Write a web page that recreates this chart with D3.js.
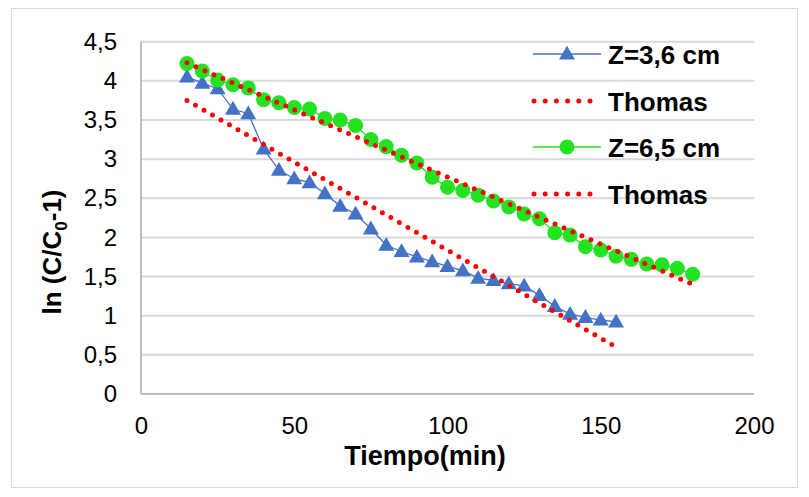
<!DOCTYPE html>
<html>
<head>
<meta charset="utf-8">
<script src="https://cdn.jsdelivr.net/npm/d3@7"></script>
<style>
  html, body { margin: 0; padding: 0; background: #fff; }
  svg text { font-family: "Liberation Sans", Arial, sans-serif; fill: #000; }
</style>
</head>
<body>
<svg id="chart" width="809" height="497"></svg>
<script>
// Time points (min) for each column height
const timeZ36 = [15,20,25,30,35,40,45,50,55,60,65,70,75,80,85,90,95,100,105,110,115,120,125,130,135,140,145,150,155];
const lnZ36   = [4.05,3.97,3.90,3.64,3.58,3.13,2.86,2.75,2.70,2.56,2.40,2.30,2.11,1.90,1.82,1.75,1.69,1.63,1.575,1.48,1.45,1.41,1.38,1.26,1.12,1.02,0.98,0.945,0.92];

const timeZ65 = [15,20,25,30,35,40,45,50,55,60,65,70,75,80,85,90,95,100,105,110,115,120,125,130,135,140,145,150,155,160,165,170,175,180];
const lnZ65   = [4.22,4.125,4.01,3.95,3.91,3.76,3.72,3.66,3.64,3.52,3.50,3.43,3.25,3.16,3.05,2.95,2.77,2.64,2.60,2.54,2.465,2.39,2.30,2.24,2.06,2.03,1.88,1.84,1.76,1.72,1.66,1.65,1.605,1.53];

// Thomas model lines (straight lines, start and end values)
const thomasZ36 = [[15, 3.75], [155, 0.60]];
const thomasZ65 = [[15, 4.23], [180, 1.40]];

const xTicks = [0, 50, 100, 150, 200];
const yTicks = [0, 0.5, 1, 1.5, 2, 2.5, 3, 3.5, 4, 4.5];
const fmtComma = d => String(d).replace(".", ",");

const legendLabels = ["Z=3,6 cm", "Thomas", "Z=6,5 cm", "Thomas"];

const BLUE = "#4472c4", GREEN = "#22e222", RED = "#ff0000", GRID = "#d9d9d9";

const svg = d3.select("#chart");

// outer chart frame
svg.append("rect")
  .attr("x", 11.5).attr("y", 8.5).attr("width", 786).attr("height", 479)
  .attr("fill", "none").attr("stroke", GRID).attr("stroke-width", 1);

const x = d3.scaleLinear().domain([0, 200]).range([141, 754]);
const y = d3.scaleLinear().domain([0, 4.5]).range([394, 41.7]);

// horizontal gridlines
svg.append("g")
  .selectAll("line")
  .data(yTicks.filter(d => d > 0))
  .join("line")
  .attr("x1", x(0)).attr("x2", x(200))
  .attr("y1", d => y(d)).attr("y2", d => y(d))
  .attr("stroke", GRID).attr("stroke-width", 2);

// axes lines
svg.append("line").attr("x1", x(0)).attr("x2", x(0)).attr("y1", y(4.5)).attr("y2", y(0))
  .attr("stroke", "#bfbfbf").attr("stroke-width", 2);
svg.append("line").attr("x1", x(0)).attr("x2", x(200)).attr("y1", y(0)).attr("y2", y(0))
  .attr("stroke", "#bfbfbf").attr("stroke-width", 2);

// y tick labels
const yAxis = d3.axisLeft(y).tickValues(yTicks).tickFormat(fmtComma).tickSize(0).tickPadding(24);
const gy = svg.append("g").attr("transform", `translate(${x(0)},0)`).call(yAxis);
gy.select(".domain").remove();
gy.selectAll("text").attr("font-size", 24).attr("font-family", "Liberation Sans, Arial, sans-serif");

// x tick labels
const xAxis = d3.axisBottom(x).tickValues(xTicks).tickFormat(fmtComma).tickSize(0).tickPadding(23);
const gx = svg.append("g").attr("transform", `translate(0,${y(0)})`).call(xAxis);
gx.select(".domain").remove();
gx.selectAll("text").attr("font-size", 24).attr("font-family", "Liberation Sans, Arial, sans-serif");

// axis titles
svg.append("text")
  .attr("x", 425).attr("y", 465)
  .attr("text-anchor", "middle")
  .attr("font-size", 27).attr("font-weight", "bold")
  .text("Tiempo(min)");

const yt = svg.append("text")
  .attr("transform", "translate(61,252) rotate(-90)")
  .attr("text-anchor", "middle")
  .attr("font-size", 26).attr("font-weight", "bold");
yt.append("tspan").text("ln (C/C");
yt.append("tspan").attr("font-size", 17).attr("dy", 6).text("0");
yt.append("tspan").attr("dy", -6).text("-1)");

const line = d3.line().x(d => x(d[0])).y(d => y(d[1]));
const triangle = d3.symbol().type(d3.symbolTriangle).size(110);

// series Z=3,6 cm
const s36 = timeZ36.map((t, i) => [t, lnZ36[i]]);
svg.append("path").datum(s36).attr("d", line)
  .attr("fill", "none").attr("stroke", BLUE).attr("stroke-width", 1.3);
svg.append("g").selectAll("path").data(s36).join("path")
  .attr("d", triangle)
  .attr("transform", d => `translate(${x(d[0])},${y(d[1]) + 1})`)
  .attr("fill", BLUE);

// Thomas fit for Z=3,6 cm
svg.append("path").datum(thomasZ36).attr("d", line)
  .attr("fill", "none").attr("stroke", RED).attr("stroke-width", 5)
  .attr("stroke-linecap", "round").attr("stroke-dasharray", "0 9.8");

// series Z=6,5 cm
const s65 = timeZ65.map((t, i) => [t, lnZ65[i]]);
svg.append("path").datum(s65).attr("d", line)
  .attr("fill", "none").attr("stroke", GREEN).attr("stroke-width", 1.3);
svg.append("g").selectAll("circle").data(s65).join("circle")
  .attr("cx", d => x(d[0])).attr("cy", d => y(d[1]))
  .attr("r", 7.5).attr("fill", GREEN);

// Thomas fit for Z=6,5 cm
svg.append("path").datum(thomasZ65).attr("d", line)
  .attr("fill", "none").attr("stroke", RED).attr("stroke-width", 5)
  .attr("stroke-linecap", "round").attr("stroke-dasharray", "0 9.8");

// legend
const legY = [54, 101, 147, 194];
const lg = svg.append("g");
legendLabels.forEach((lab, i) => {
  const cy = legY[i];
  if (i === 0 || i === 2) {
    const col = i === 0 ? BLUE : GREEN;
    lg.append("line").attr("x1", 533).attr("x2", 601).attr("y1", cy).attr("y2", cy)
      .attr("stroke", col).attr("stroke-width", 1.3);
    if (i === 0) {
      lg.append("path").attr("d", triangle).attr("transform", `translate(567,${cy + 1})`).attr("fill", BLUE);
    } else {
      lg.append("circle").attr("cx", 567).attr("cy", cy).attr("r", 7.5).attr("fill", GREEN);
    }
  } else {
    lg.append("line").attr("x1", 534).attr("x2", 601).attr("y1", cy).attr("y2", cy)
      .attr("stroke", RED).attr("stroke-width", 5)
      .attr("stroke-linecap", "round").attr("stroke-dasharray", "0 11.2");
  }
  lg.append("text").attr("x", 608).attr("y", cy + 9.5)
    .attr("font-size", 26).attr("font-weight", "bold").text(lab);
});
</script>
</body>
</html>
